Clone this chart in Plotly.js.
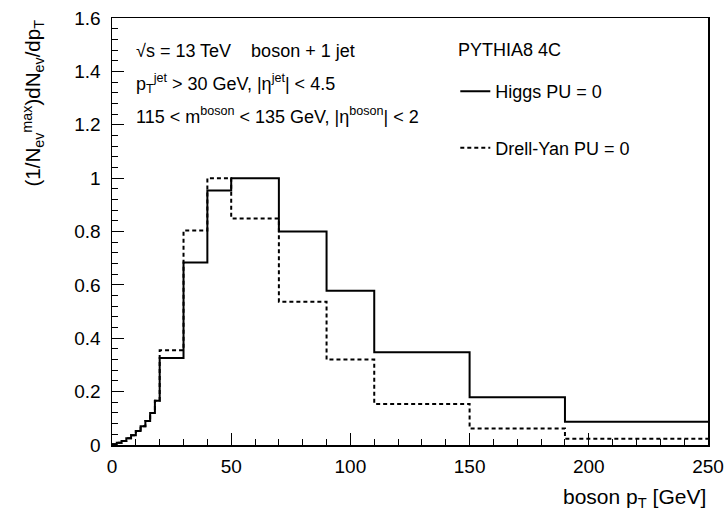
<!DOCTYPE html>
<html>
<head>
<meta charset="utf-8">
<script src="https://cdn.plot.ly/plotly-3.0.1.min.js"></script>
<style>html,body{margin:0;padding:0;background:#fff;}#plot{width:728px;height:518px;}</style>
</head>
<body>
<div id="plot"></div>
<script>
// Bin edges of boson pT [GeV]
var binEdges = [0,2,4,6,8,10,12,14,16,18,20,30,40,50,70,90,110,150,190,250];
// Normalised dN/dpT per bin
var higgsValues = [0.003,0.008,0.015,0.025,0.037,0.052,0.070,0.090,0.120,0.166,0.326,0.684,0.954,1.000,0.800,0.578,0.348,0.179,0.087];
var dyValues    = [0.003,0.008,0.015,0.025,0.037,0.052,0.070,0.090,0.120,0.166,0.355,0.804,1.000,0.849,0.537,0.320,0.154,0.062,0.0235];
var seriesNames = ["Higgs PU = 0", "Drell-Yan PU = 0"];

function stepY(v){ return v.concat([v[v.length-1]]); }

var FONT = "Liberation Sans, Arial, Helvetica, sans-serif";

var traces = [
  {x: binEdges, y: stepY(higgsValues), type: "scatter", mode: "lines", line: {shape: "hv", color: "#000", width: 2}, name: seriesNames[0], legendgroup: "a"},
  {x: binEdges, y: stepY(dyValues), type: "scatter", mode: "lines", line: {shape: "hv", color: "#000", width: 2, dash: "4px,3px"}, name: seriesNames[1], legendgroup: "b"}
];

var layout = {
  width: 728, height: 518,
  margin: {l: 112, r: 20, t: 18, b: 73},
  paper_bgcolor: "#fff", plot_bgcolor: "#fff",
  font: {family: FONT, color: "#000", size: 18},
  showlegend: true,
  legend: {x: 0.576, y: 0.871, xanchor: "left", yanchor: "top", font: {family: FONT, size: 18, color: "#000"},
           tracegroupgap: 30, bgcolor: "rgba(0,0,0,0)", itemwidth: 30},
  xaxis: {range: [0, 250], dtick: 50, tick0: 0, ticks: "inside", ticklen: 12, tickwidth: 1, tickcolor: "#000",
          showline: true, linecolor: "#000", linewidth: 1.5, mirror: true, showgrid: false, zeroline: false,
          minor: {dtick: 10, ticks: "inside", ticklen: 6, tickcolor: "#000", showgrid: false},
          tickfont: {size: 19, family: FONT}, ticklabelstandoff: 4},
  yaxis: {range: [0, 1.6], dtick: 0.2, tick0: 0, ticks: "inside", ticklen: 12, tickwidth: 1, tickcolor: "#000",
          showline: true, linecolor: "#000", linewidth: 1.5, mirror: true, showgrid: false, zeroline: false,
          minor: {dtick: 0.04, ticks: "inside", ticklen: 6, tickcolor: "#000", showgrid: false},
          tickfont: {size: 19, family: FONT}, ticklabelstandoff: 6},
  annotations: [
    {xref: "paper", yref: "paper", x: 1, y: -0.125, xanchor: "right", yanchor: "middle", showarrow: false,
     text: "boson p<sub>T</sub> [GeV]", font: {size: 21, family: FONT}},
    {xref: "paper", yref: "paper", x: -0.1325, y: 1.0, xanchor: "center", yanchor: "top", textangle: -90, showarrow: false,
     text: "(1/N<sub>ev</sub><sup>max</sup>)dN<sub>ev</sub>/dp<sub>T</sub>", font: {size: 20.5, family: FONT}},
    {xref: "paper", yref: "paper", x: 0.037, y: 0.923, xanchor: "left", yanchor: "middle", showarrow: false,
     text: "√s = 13 TeV    boson + 1 jet", font: {size: 18, family: FONT}},
    {xref: "paper", yref: "paper", x: 0.037, y: 0.847, xanchor: "left", yanchor: "middle", showarrow: false,
     text: "p<sub>T</sub><sup>jet</sup> > 30 GeV, |η<sup>jet</sup>| < 4.5", font: {size: 18, family: FONT}},
    {xref: "paper", yref: "paper", x: 0.037, y: 0.771, xanchor: "left", yanchor: "middle", showarrow: false,
     text: "115 < m<sup>boson</sup> < 135 GeV, |η<sup>boson</sup>| < 2", font: {size: 18, family: FONT}},
    {xref: "paper", yref: "paper", x: 0.578, y: 0.925, xanchor: "left", yanchor: "middle", showarrow: false,
     text: "PYTHIA8 4C", font: {size: 18, family: FONT}}
  ]
};

Plotly.newPlot("plot", traces, layout, {displayModeBar: false, staticPlot: true});
</script>
</body>
</html>
